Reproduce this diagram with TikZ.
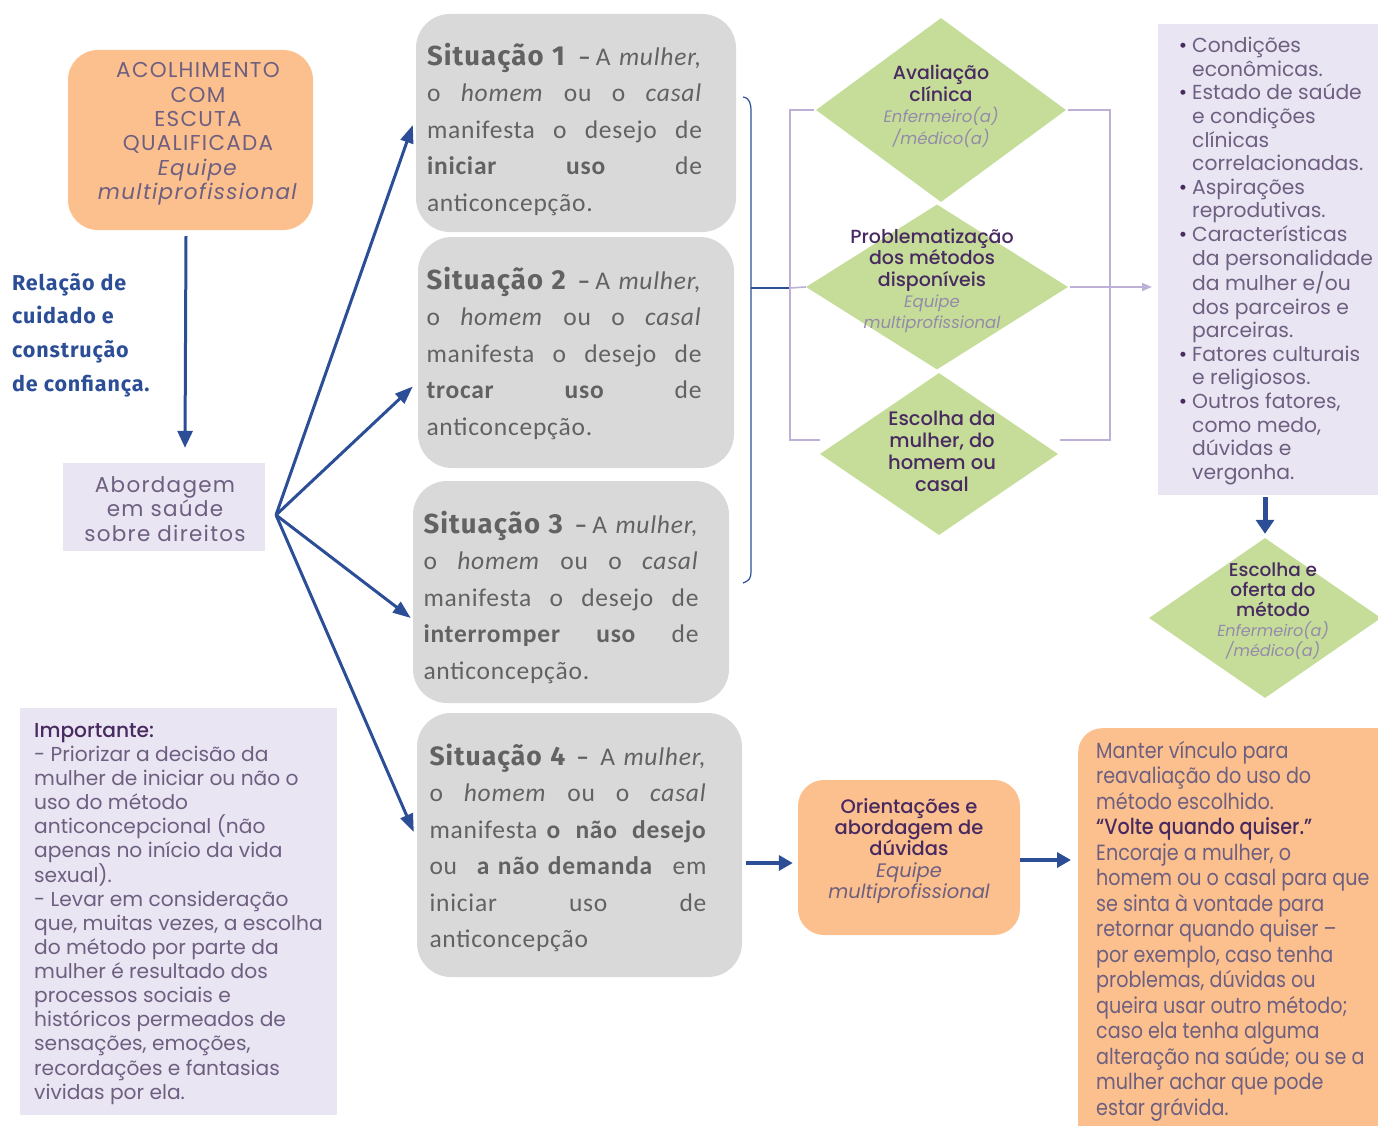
\documentclass[tikz,border=0pt]{standalone}
\usepackage{fontspec}
\setmainfont{Poppins}
\newfontfamily\popmed{Poppins Medium}
\newfontfamily\calf{Carlito}[LetterSpace=3]
\newfontfamily\comicf{Fira Sans}[LetterSpace=4]
\newfontfamily\narrowf{Poppins}[FakeStretch=0.87]
\newfontfamily\narrowmed{Poppins Medium}[FakeStretch=0.87]
\newfontfamily\widef{Poppins}[LetterSpace=6]
\usetikzlibrary{shapes.geometric,arrows.meta}
\definecolor{peach}{RGB}{252,192,142}
\definecolor{sitgray}{RGB}{217,217,217}
\definecolor{lavfill}{RGB}{233,229,243}
\definecolor{dgreen}{RGB}{197,221,153}
\definecolor{cBlue}{RGB}{44,78,150}
\definecolor{cTxt}{RGB}{110,95,128}
\definecolor{cDark}{RGB}{72,42,96}
\definecolor{cItal}{RGB}{150,138,170}
\definecolor{cSit}{RGB}{98,98,98}
\definecolor{cLav}{RGB}{190,175,215}
\newcommand\hd[1]{{\popmed\textcolor{cDark}{#1}}}
\newcommand\ital[1]{{\itshape\textcolor{cItal}{#1}}}
\newcommand\jl[1]{\hbox to 275pt{#1}\par}
\newcommand\jw[1]{\hbox to 277pt{#1}\par}
\newcommand\sith[1]{{\comicf\bfseries\fontsize{27.5}{36}\selectfont Situação #1}}
\begin{document}
\begin{tikzpicture}[x=1pt,y=-1pt,
  peachbox/.style={fill=peach,draw=none,inner sep=0pt},
  sitbox/.style={fill=sitgray,draw=none,inner sep=0pt,rounded corners=34pt},
  lavbox/.style={fill=lavfill,draw=none,inner sep=0pt},
  gdiam/.style={diamond,fill=dgreen,draw=none,inner sep=0pt},
  bluearr/.style={draw=cBlue,line width=3pt,-{Triangle[length=17pt,width=15pt]}},
  fanarr/.style={draw=cBlue,line width=3pt,-{Triangle[length=18pt,width=13pt]}},
  thinblue/.style={draw=cBlue,line width=1.2pt},
  lavln/.style={draw=cLav,line width=1.6pt},
  sittxt/.style={inner sep=0pt,text width=275pt,align=left,text=cSit,font=\calf\fontsize{25.5}{36.5}\selectfont},
]
\useasboundingbox (0,0) rectangle (1378,1126);

% left column
\node[peachbox,rounded corners=30pt,minimum width=245pt,minimum height=180pt] (acol) at (190.5,140) {};
\node[align=center,text=cTxt,inner sep=0pt,font=\widef\fontsize{21.5}{24.4}\selectfont] (acoltxt) at (198,134)
  {ACOLHIMENTO\\COM\\ESCUTA\\QUALIFICADA\\\textit{Equipe}\\\textit{multiprofissional}};

\node[anchor=north west,align=left,inner sep=0pt,text=cBlue,font=\comicf\bfseries\fontsize{21.5}{33.7}\selectfont] (rel) at (12,273)
  {Relação de\\cuidado e\\construção\\de confiança.};

\node[lavbox,minimum width=202pt,minimum height=88pt] (abord) at (164,507) {};
\node[align=center,text=cTxt,inner sep=0pt,font=\widef\fontsize{21.5}{24.5}\selectfont] (abordtxt) at (165,509)
  {Abordagem\\em saúde\\sobre direitos};

\draw[bluearr] ([xshift=-4.5pt,yshift=-6pt]acol.south) -- ([xshift=21pt,yshift=15pt]abord.north);

\node[lavbox,minimum width=317pt,minimum height=407pt] (imp) at (178.5,911.5) {};
\node[anchor=north west,align=left,inner sep=0pt,text=cTxt,font=\fontsize{20.2}{24.13}\selectfont] (imptxt) at (34,723)
  {\hd{Importante:}\\- Priorizar a decisão da\\mulher de iniciar ou não o\\uso do método\\anticoncepcional (não\\apenas no início da vida\\sexual).\\- Levar em consideração\\que, muitas vezes, a escolha\\do método por parte da\\mulher é resultado dos\\processos sociais e\\históricos permeados de\\sensações, emoções,\\recordações e fantasias\\vividas por ela.};

% situation boxes
\node[sitbox,minimum width=320pt,minimum height=218pt] (s1) at (576,123) {};
\node[sittxt] (s1txt) at (564.5,129) {%
  \jl{\sith{1}\hfill\textbf{–}\,A \textit{mulher,}}%
  \jl{o\hfill\textit{homem}\hfill ou\hfill o\hfill\textit{casal}}%
  \jl{manifesta\hfill o\hfill desejo\hfill de}%
  \jl{\textbf{iniciar}\hfill\textbf{uso}\hfill de}%
  \jl{anticoncepção.\hfill}};

\node[sitbox,minimum width=316pt,minimum height=231pt] (s2) at (576,352.5) {};
\node[sittxt] (s2txt) at (564,353) {%
  \jl{\sith{2}\hfill\textbf{–}\,A \textit{mulher,}}%
  \jl{o\hfill\textit{homem}\hfill ou\hfill o\hfill\textit{casal}}%
  \jl{manifesta\hfill o\hfill desejo\hfill de}%
  \jl{\textbf{trocar}\hfill\textbf{uso}\hfill de}%
  \jl{anticoncepção.\hfill}};

\node[sitbox,minimum width=316pt,minimum height=222pt] (s3) at (571,592) {};
\node[sittxt] (s3txt) at (561,597) {%
  \jl{\sith{3}\hfill\textbf{–}\,A \textit{mulher,}}%
  \jl{o\hfill\textit{homem}\hfill ou\hfill o\hfill\textit{casal}}%
  \jl{manifesta\hfill o\hfill desejo\hfill de}%
  \jl{\textbf{interromper}\hfill\textbf{uso}\hfill de}%
  \jl{anticoncepção.\hfill}};

\node[sitbox,minimum width=325pt,minimum height=264pt] (s4) at (579.5,845) {};
\node[sittxt,text width=277pt] (s4txt) at (568,848) {%
  \jw{{\comicf\bfseries\fontsize{26.5}{36}\selectfont Situação 4}\hspace{10pt}\textbf{–}\hfill A \textit{mulher,}}%
  \jw{o\hfill\textit{homem}\hfill ou\hfill o\hfill\textit{casal}}%
  \jw{manifesta \textbf{o\hfill não\hfill desejo}}%
  \jw{ou\hfill\textbf{a não demanda}\hfill em}%
  \jw{iniciar\hfill uso\hfill de}%
  \jw{anticoncepção\hfill}};

% fan arrows
\coordinate (fan) at (276,515);
\draw[fanarr] (fan) -- ([xshift=-3pt,yshift=-2pt]s1.west);
\draw[fanarr] (fan) -- ([xshift=-5pt,yshift=-34pt]s2.west);
\draw[fanarr] (fan) -- ([xshift=-2pt,yshift=-26pt]s3.west);
\draw[fanarr] (fan) -- ([xshift=-3pt,yshift=13pt]s4.west);

% brace
\draw[thinblue] (743,97) .. controls (750,98) and (751,104) .. (751,112) -- (751,572) .. controls (751,578) and (749,581) .. (743,583);

% diamonds
\node[gdiam,minimum width=250pt,minimum height=184pt] (d1) at (941,110) {};
\node[align=center,inner sep=0pt,font=\fontsize{19}{21.5}\selectfont] (d1txt) at (941,106)
  {\hd{Avaliação}\\\hd{clínica}\\{\fontsize{16.5}{20}\selectfont\ital{Enfermeiro(a)}}\\{\fontsize{16.5}{20}\selectfont\ital{/médico(a)}}};
\node[gdiam,minimum width=262pt,minimum height=165pt] (d2) at (937,287) {};
\node[align=center,inner sep=0pt,font=\fontsize{19}{21.3}\selectfont] (d2txt) at (932,281)
  {\hd{Problematização}\\\hd{dos métodos}\\\hd{disponíveis}\\{\fontsize{16.5}{20}\selectfont\ital{Equipe}}\\{\fontsize{16.5}{20}\selectfont\ital{multiprofissional}}};
\node[gdiam,minimum width=238pt,minimum height=162pt] (d3) at (939,454) {};
\node[align=center,inner sep=0pt,font=\fontsize{19.5}{22}\selectfont] (d3txt) at (942,451)
  {\hd{Escolha da}\\\hd{mulher, do}\\\hd{homem ou}\\\hd{casal}};

% connectors around diamonds
\coordinate (bmid) at (751,288);
\coordinate (lbT) at (790,110);
\coordinate (lbB) at (790,440);
\coordinate (lbM) at (790,288);
\coordinate (rbT) at (1110,110);
\coordinate (rbB) at (1110,440);
\draw[thinblue] (bmid) -- (lbM);
\draw[lavln] (lbM) -- (d2.west);
\draw[lavln] ([xshift=-2pt]d1.west) -- (lbT) -- (lbB) -- (820,440);
\draw[lavln] ([xshift=2pt]d1.east) -- (rbT) -- (rbB) -- (1060,440);

% list box
\node[lavbox,minimum width=230pt,minimum height=471pt] (list) at (1273,259.5) {};
\node[anchor=north west,align=left,inner sep=0pt,text=cTxt,font=\fontsize{20.3}{23.6}\selectfont] (listtxt) at (1192,37)
  {\llap{\textcolor{cDark}{\textbullet}\hspace{5pt}}Condições\\econômicas.\\
   \llap{\textcolor{cDark}{\textbullet}\hspace{5pt}}Estado de saúde\\e condições\\clínicas\\correlacionadas.\\
   \llap{\textcolor{cDark}{\textbullet}\hspace{5pt}}Aspirações\\reprodutivas.\\
   \llap{\textcolor{cDark}{\textbullet}\hspace{5pt}}Características\\da personalidade\\da mulher e/ou\\dos parceiros e\\parceiras.\\
   \llap{\textcolor{cDark}{\textbullet}\hspace{5pt}}Fatores culturais\\e religiosos.\\
   \llap{\textcolor{cDark}{\textbullet}\hspace{5pt}}Outros fatores,\\como medo,\\dúvidas e\\vergonha.};
\coordinate (arrend) at (1152,287);
\draw[lavln,-{Triangle[length=10pt,width=8pt]}] ([xshift=2pt]d2.east) -- (arrend);

\node[gdiam,minimum width=232pt,minimum height=160pt] (d4) at (1265,618) {};
\node[align=center,inner sep=0pt,font=\fontsize{18.5}{20}\selectfont] (d4txt) at (1273,611)
  {\hd{Escolha e}\\\hd{oferta do}\\\hd{método}\\{\fontsize{16}{19.5}\selectfont\ital{Enfermeiro(a)}}\\{\fontsize{16}{19.5}\selectfont\ital{/médico(a)}}};
\draw[draw=cBlue,line width=5pt,-{Triangle[length=14pt,width=18pt]}] ([xshift=-8pt,yshift=-2pt]list.south) -- ([yshift=4pt]d4.north);

% bottom row
\node[peachbox,rounded corners=26pt,minimum width=222pt,minimum height=155pt] (orient) at (909,857.5) {};
\node[align=center,inner sep=0pt,font=\fontsize{19.5}{21.3}\selectfont] (orienttxt) at (909,851)
  {\hd{Orientações e}\\\hd{abordagem de}\\\hd{dúvidas}\\{\itshape\textcolor{cTxt}{Equipe}}\\{\itshape\textcolor{cTxt}{multiprofissional}}};
\node[peachbox,rounded corners=24pt,anchor=north west,minimum width=330pt,minimum height=440pt] (manter) at (1078,728) {};
\node[anchor=north west,align=left,inner sep=0pt,text=cTxt,font=\narrowf\fontsize{22}{25.5}\selectfont] (mantertxt) at (1096,741)
  {Manter vínculo para\\reavaliação do uso do\\método escolhido.\\{\narrowmed\textcolor{cDark}{“Volte quando quiser.”}}\\Encoraje a mulher, o\\homem ou o casal para que\\se sinta à vontade para\\retornar quando quiser –\\por exemplo, caso tenha\\problemas, dúvidas ou\\queira usar outro método;\\caso ela tenha alguma\\alteração na saúde; ou se a\\mulher achar que pode\\estar grávida.};

\draw[draw=cBlue,line width=3.5pt,-{Triangle[length=14pt,width=15pt]}] ([xshift=4pt,yshift=-18pt]s4.east) -- ([xshift=-5pt,yshift=-5.5pt]orient.west);
\draw[draw=cBlue,line width=3.5pt,-{Triangle[length=14pt,width=15pt]}] ([xshift=0pt,yshift=-2.5pt]orient.east) -- ([xshift=-7pt,yshift=-132pt]manter.west |- manter.north);
\end{tikzpicture}
\end{document}
